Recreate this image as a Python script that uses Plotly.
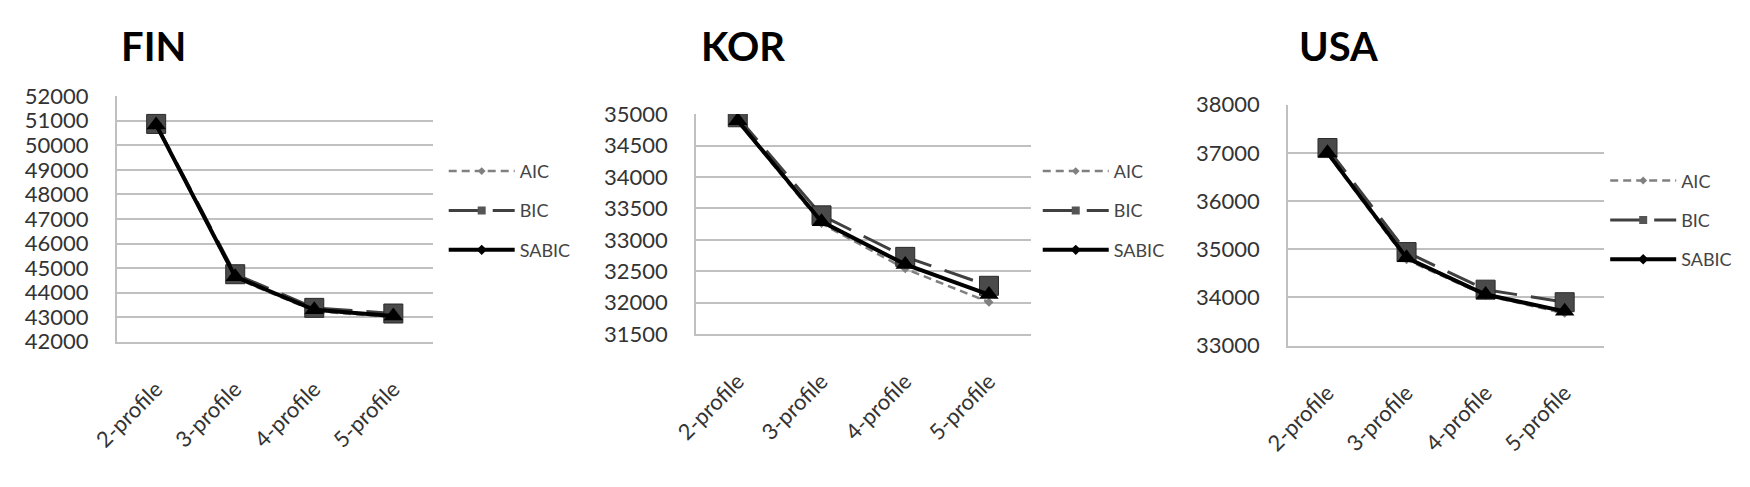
import plotly.graph_objects as go

categories = ["2-profile", "3-profile", "4-profile", "5-profile"]
series_names = ["AIC", "BIC", "SABIC"]

fin_aic = [50800, 44600, 43250, 43000]
fin_bic = [50870, 44750, 43380, 43150]
fin_sabic = [50830, 44650, 43300, 43050]

kor_aic = [34880, 33260, 32540, 32010]
kor_bic = [34950, 33390, 32730, 32270]
kor_sabic = [34895, 33290, 32610, 32130]

usa_aic = [36980, 34780, 34040, 33670]
usa_bic = [37100, 34940, 34160, 33900]
usa_sabic = [37000, 34820, 34060, 33710]

panels = [
    ("FIN", fin_aic, fin_bic, fin_sabic, [42000, 52000], 1000),
    ("KOR", kor_aic, kor_bic, kor_sabic, [31500, 35000], 500),
    ("USA", usa_aic, usa_bic, usa_sabic, [33000, 38000], 1000),
]

W, H = 1750, 487
# pixel geometry of each panel: x0, x1, ytop, ybottom, title x, legend x, legend y
geom = [
    (92, 413, 87, 347, 94, 424, 147),
    (680, 1020, 106, 339, 683, 1027, 147),
    (1281, 1602, 96, 351, 1290, 1603, 157),
]

styles = {
    "AIC": dict(line=dict(color="#808080", width=2.5, dash="8px,5px"),
                marker=dict(symbol="diamond", size=7, color="#808080")),
    "BIC": dict(line=dict(color="#404040", width=3, dash="30px,14px"),
                marker=dict(symbol="square", size=19, color="#4a4a4a",
                            line=dict(color="#2a2a2a", width=1))),
    "SABIC": dict(line=dict(color="#000000", width=4),
                  marker=dict(symbol="triangle-up", size=17, color="#000000")),
}
legend_markers = {
    "AIC": dict(symbol="diamond", size=6, color="#808080"),
    "BIC": dict(symbol="square", size=8, color="#555555"),
    "SABIC": dict(symbol="diamond", size=8, color="#000000"),
}

fig = go.Figure()
font_family = "Lato, Open Sans, sans-serif"

for i, (name, aic, bic, sabic, yrange, dtick) in enumerate(panels):
    n = "" if i == 0 else str(i + 1)
    legend_id = "legend" + n
    for sname, vals in zip(series_names, [aic, bic, sabic]):
        st = styles[sname]
        fig.add_trace(go.Scatter(
            x=categories, y=vals, name=sname, mode="lines+markers",
            line=st["line"], marker=st["marker"],
            xaxis="x" + n, yaxis="y" + n, showlegend=False,
            legendgroup=name + sname,
        ))
    for sname in series_names:
        st = styles[sname]
        fig.add_trace(go.Scatter(
            x=[None], y=[None], name=sname, mode="lines+markers",
            line=st["line"], marker=legend_markers[sname],
            xaxis="x" + n, yaxis="y" + n, legend=legend_id,
            legendgroup=name + sname, showlegend=True,
        ))
    x0, x1, yt, yb, tx, lx, ly = geom[i]
    fig.update_layout(**{
        "xaxis" + n: dict(
            domain=[x0 / W, x1 / W], anchor="y" + n, type="category",
            range=[-0.5, 3.5], showgrid=False, zeroline=False,
            showline=True, linecolor="#c0c0c0", linewidth=1.5,
            tickangle=-45, ticks="", ticklabelstandoff=24,
            tickfont=dict(family=font_family, size=22, color="#333333"),
        ),
        "yaxis" + n: dict(
            domain=[1 - yb / H, 1 - yt / H], anchor="x" + n,
            range=yrange, dtick=dtick, tickformat="d",
            showgrid=True, gridcolor="#c0c0c0", gridwidth=1.5,
            zeroline=False, showline=True, linecolor="#c0c0c0", linewidth=1.5,
            ticks="", ticklabelstandoff=22,
            tickfont=dict(family=font_family, size=22, color="#333333"),
        ),
        legend_id: dict(
            x=lx / W, y=1 - ly / H, xanchor="left", yanchor="top",
            font=dict(family=font_family, size=18, color="#444444"),
            itemwidth=66, traceorder="grouped", tracegroupgap=13,
            bgcolor="rgba(0,0,0,0)",
        ),
    })
    fig.add_annotation(
        text="<b>" + name + "</b>", xref="paper", yref="paper",
        x=tx / W, y=1 - 34 / H, xanchor="left", yanchor="middle",
        showarrow=False, font=dict(family=font_family, size=40, color="#000000"),
    )

fig.update_layout(
    width=W, height=H, margin=dict(l=0, r=0, t=0, b=0),
    paper_bgcolor="white", plot_bgcolor="white", showlegend=True,
)

fig.write_html(
    "out.html",
    config={"displayModeBar": False},
    post_script="document.body.style.margin='0px';document.body.style.overflow='hidden';",
)
